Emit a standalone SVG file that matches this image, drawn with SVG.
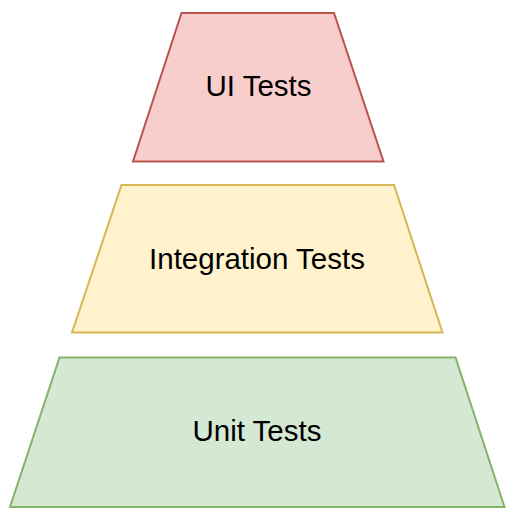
<svg xmlns="http://www.w3.org/2000/svg" width="517" height="519" viewBox="0 0 517 519">
<style>
.s{stroke-width:2;stroke-linejoin:miter}
.t{font-family:"Liberation Sans",Arial,sans-serif;font-size:29.5px;fill:#000;text-anchor:middle}
</style>
<rect width="517" height="519" fill="#fff"/>
<g id="ui">
<polygon class="s" points="181.5,13 334,13 383.5,161.5 133,161.5" fill="#f8cecc" stroke="#b85450"/>
<text class="t" x="258.5" y="95.5">UI Tests</text>
</g>
<g id="integration">
<polygon class="s" points="121.5,185 394,185 442.5,332.5 72,332.5" fill="#fff2cc" stroke="#d6b656"/>
<text class="t" x="257" y="268.5">Integration Tests</text>
</g>
<g id="unit">
<polygon class="s" points="59.5,357.5 455.5,357.5 504.5,507 10,507" fill="#d5e8d4" stroke="#82b366"/>
<text class="t" x="257" y="441">Unit Tests</text>
</g>
<g id="connectors"/>
</svg>
